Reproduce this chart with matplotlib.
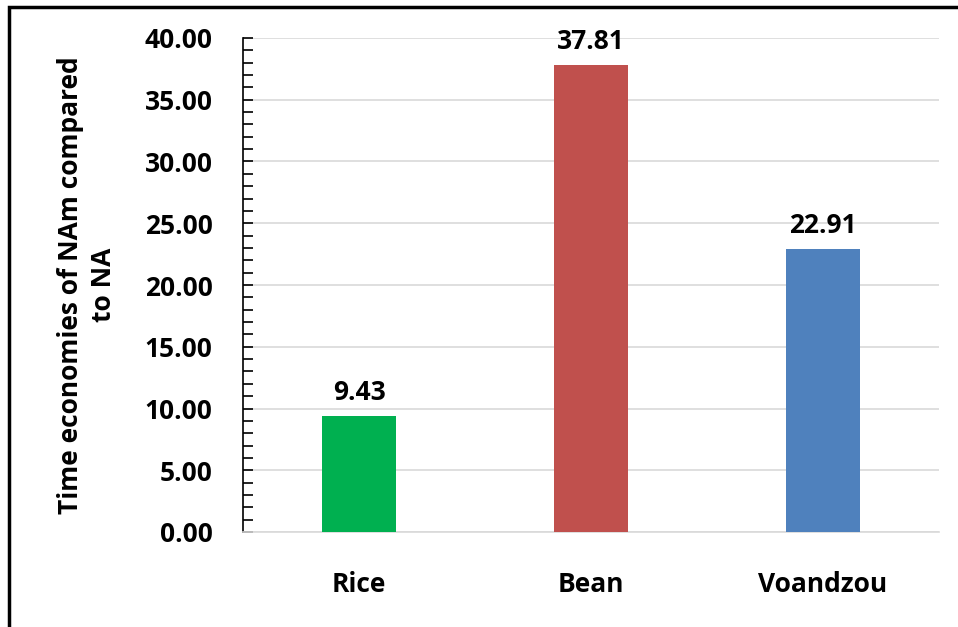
import numpy as np
import matplotlib.pyplot as plt
from matplotlib.patches import Rectangle
from matplotlib.ticker import MultipleLocator

plt.rcParams['font.family'] = ['Open Sans', 'DejaVu Sans']
plt.rcParams['font.weight'] = 'bold'

crops = ['Rice', 'Bean', 'Voandzou']
savings = [9.43, 37.81, 22.91]
colors = ['#00B050', '#C0504D', '#4F81BD']

fig = plt.figure(figsize=(9.58, 6.27), dpi=100)
ax = fig.add_axes([243 / 958, 1 - 532 / 627, 696 / 958, 494 / 627])

x = np.arange(len(crops))
bars = ax.bar(x, savings, width=0.32, color=colors, zorder=3)

for b, v in zip(bars, savings):
    ax.text(b.get_x() + b.get_width() / 2, v + 0.8, f'{v:.2f}',
            ha='center', va='bottom', fontsize=19, fontweight='bold')

ax.set_xlim(-0.5, 2.5)
ax.set_ylim(0, 40)
ax.yaxis.set_major_locator(MultipleLocator(5))
ax.yaxis.set_minor_locator(MultipleLocator(1))
ax.yaxis.set_major_formatter(lambda v, p: f'{v:.2f}')
ax.tick_params(axis='y', which='both', direction='in', length=7, width=1.2,
               labelsize=19, pad=22)
ax.tick_params(axis='x', length=0, labelsize=19, pad=28)
ax.set_xticks(x)
ax.set_xticklabels(crops, fontweight='bold')
for lbl in ax.get_yticklabels():
    lbl.set_fontweight('bold')

ax.grid(axis='y', color='#d9d9d9', linewidth=1.2, zorder=0)
ax.spines['top'].set_visible(False)
ax.spines['right'].set_visible(False)
ax.spines['left'].set_color('black')
ax.spines['left'].set_linewidth(1.2)
ax.spines['bottom'].set_color('#d9d9d9')
ax.spines['bottom'].set_linewidth(1.2)

ax.set_ylabel('Time economies of NAm compared\nto NA', fontsize=19,
              fontweight='bold', labelpad=20, linespacing=1.25)

# outer chart frame, only its left and top edges are inside the figure
fig.patches.append(Rectangle((9 / 958, -0.1), 1.2, 1.1 - 7 / 627,
                             transform=fig.transFigure, fill=False,
                             edgecolor='black', linewidth=2.5))

fig.savefig('out.png', dpi=100)
